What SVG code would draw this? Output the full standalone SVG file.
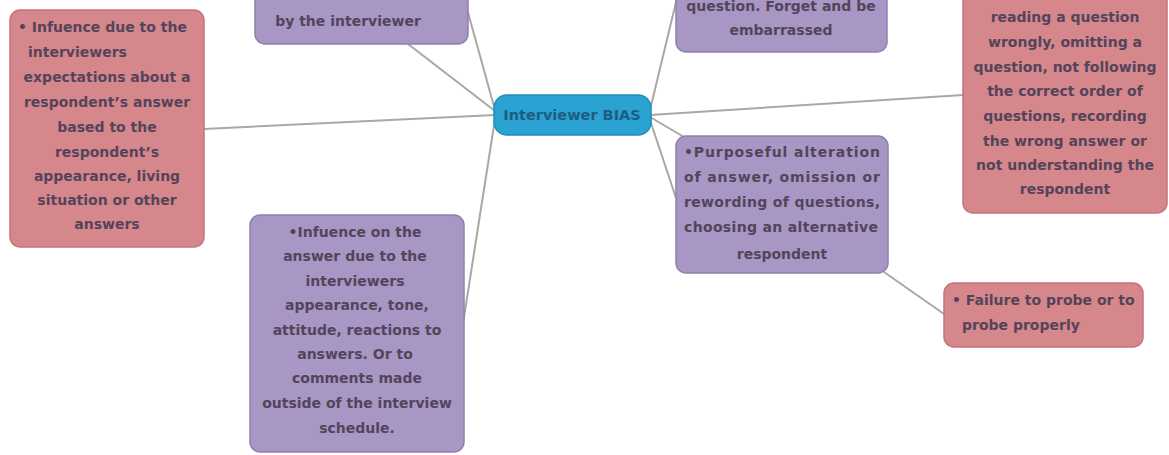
<svg xmlns="http://www.w3.org/2000/svg" width="1169" height="455" viewBox="0 0 1169 455">
<style>
.red{fill:#d6878c;stroke:#c27479;stroke-width:1.5}
.pur{fill:#a896c5;stroke:#917fb0;stroke-width:1.5}
.blue{fill:#2aa3d3;stroke:#1f8dbb;stroke-width:1.5}
text{font-family:"DejaVu Sans",Verdana,sans-serif;font-weight:bold;font-size:14px;fill:#54445a}
.c{text-anchor:middle}
.ctr{fill:#1e5d80;font-size:14.5px}
.con{stroke:#a8a8a8;stroke-width:2;fill:none}
</style>
<rect width="1169" height="455" fill="#ffffff"/>
<g id="connectors" class="con">
<line x1="495" y1="115" x2="204" y2="129"/>
<line x1="495" y1="111" x2="408" y2="44"/>
<line x1="495" y1="110" x2="464" y2="-2"/>
<line x1="650" y1="110" x2="677" y2="-2"/>
<line x1="650" y1="115" x2="963" y2="95"/>
<line x1="650" y1="117" x2="684" y2="137"/>
<line x1="650" y1="120" x2="676" y2="198"/>
<line x1="495" y1="119" x2="462" y2="330"/>
<line x1="884" y1="272" x2="944" y2="314"/>
</g>
<g id="center">
<rect class="blue" x="494" y="95" width="157" height="40" rx="13"/>
<text class="c ctr" x="572" y="120">Interviewer BIAS</text>
</g>
<g id="left">
<rect class="red" x="10" y="10" width="194" height="237" rx="10"/>
<text x="18" y="32">• Infuence due to the</text>
<text x="28" y="57">interviewers</text>
<text class="c" x="107" y="82">expectations about a</text>
<text class="c" x="107" y="107">respondent’s answer</text>
<text class="c" x="107" y="132">based to the</text>
<text class="c" x="107" y="157">respondent’s</text>
<text class="c" x="107" y="181">appearance, living</text>
<text class="c" x="107" y="205">situation  or other</text>
<text class="c" x="107" y="229">answers</text>
</g>
<g id="topleft">
<rect class="pur" x="255" y="-20" width="213" height="64" rx="10"/>
<text class="c" x="348" y="26">by the interviewer</text>
</g>
<g id="topright">
<rect class="pur" x="676" y="-20" width="211" height="72" rx="10"/>
<text class="c" x="781" y="11">question. Forget and be</text>
<text class="c" x="781" y="35">embarrassed</text>
</g>
<g id="right">
<rect class="red" x="963" y="-20" width="204" height="233" rx="10"/>
<text class="c" x="1065" y="22">reading a question</text>
<text class="c" x="1065" y="47">wrongly, omitting a</text>
<text class="c" x="1065" y="72">question, not following</text>
<text class="c" x="1065" y="96">the correct order of</text>
<text class="c" x="1065" y="121">questions, recording</text>
<text class="c" x="1065" y="146">the wrong answer or</text>
<text class="c" x="1065" y="170">not understanding  the</text>
<text class="c" x="1065" y="194">respondent</text>
</g>
<g id="midright">
<rect class="pur" x="676" y="136" width="212" height="137" rx="10"/>
<text x="684" y="157" textLength="196" lengthAdjust="spacing">•Purposeful   alteration</text>
<text x="684" y="182" textLength="196" lengthAdjust="spacing">of answer, omission or</text>
<text x="684" y="207" textLength="196" lengthAdjust="spacing">rewording of questions,</text>
<text x="684" y="232" textLength="194" lengthAdjust="spacing">choosing an alternative</text>
<text class="c" x="782" y="259">respondent</text>
</g>
<g id="bottomleft">
<rect class="pur" x="250" y="215" width="214" height="237" rx="10"/>
<text class="c" x="355" y="237">•Infuence on the</text>
<text class="c" x="355" y="261">answer due to the</text>
<text class="c" x="355" y="286">interviewers</text>
<text class="c" x="357" y="310">appearance, tone,</text>
<text class="c" x="357" y="335">attitude, reactions to</text>
<text class="c" x="355" y="359">answers. Or to</text>
<text class="c" x="357" y="383">comments made</text>
<text class="c" x="357" y="408">outside of the interview</text>
<text class="c" x="357" y="433">schedule.</text>
</g>
<g id="failure">
<rect class="red" x="944" y="283" width="199" height="64" rx="10"/>
<text x="952" y="305">• Failure to probe or to</text>
<text x="962" y="330">probe properly</text>
</g>
</svg>
